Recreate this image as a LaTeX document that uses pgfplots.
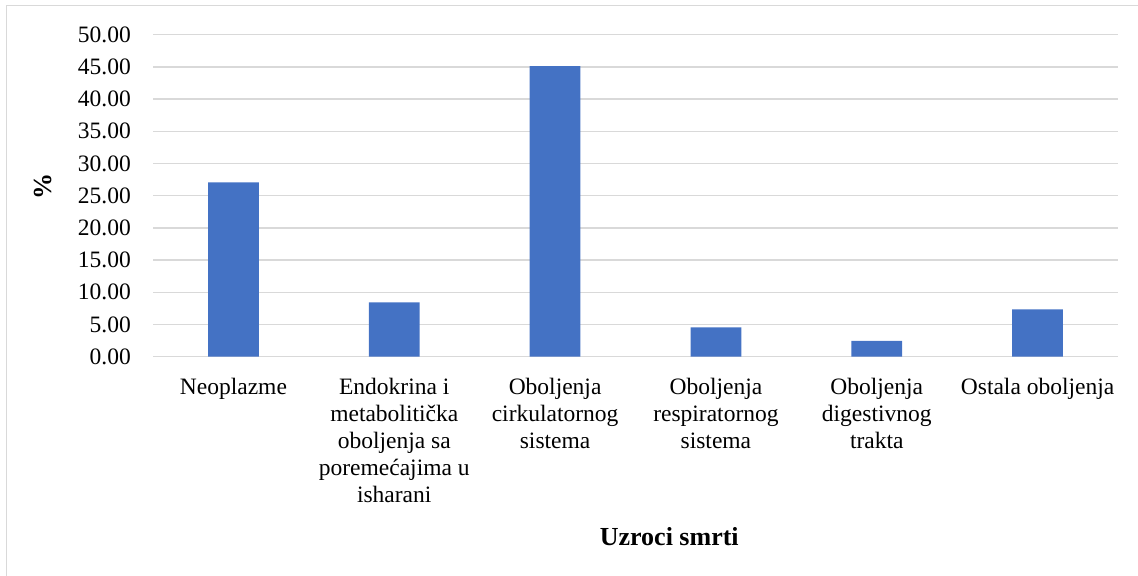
\documentclass[border=0pt]{standalone}
\usepackage{pgfplots}
\pgfplotsset{compat=1.18}
\usepackage{fontspec}
\setmainfont{Liberation Serif}
\definecolor{barblue}{HTML}{4472C4}
\definecolor{gridgray}{HTML}{D9D9D9}
\begin{document}
\fontsize{11.75pt}{13.5pt}\selectfont
\begin{tikzpicture}[font=\fontsize{11.75pt}{13.5pt}\selectfont]
\useasboundingbox (0,0) rectangle (569pt,287.5pt);
% chart area frame (only left and top edges visible)
\draw[gridgray, line width=0.75pt] (3.25pt,-5pt) -- (3.25pt,284.75pt) -- (580pt,284.75pt);
\begin{axis}[
    at={(76.5pt,109.15pt)}, anchor=south west,
    scale only axis, width=482.5pt, height=161pt,
    ybar, bar width=25.35pt,
    xmin=-0.5, xmax=5.5, ymin=0, ymax=50,
    ytick={0,5,...,50},
    xtick=data,
    xticklabels={Neoplazme, {Endokrina i\\metabolitička\\oboljenja sa\\poremećajima u\\isharani}, {Oboljenja\\cirkulatornog\\sistema}, {Oboljenja\\respiratornog\\sistema}, {Oboljenja\\digestivnog\\trakta}, Ostala oboljenja},
    xticklabel style={align=center, anchor=north, yshift=-6.5pt},
    /pgf/number format/fixed, /pgf/number format/fixed zerofill,
    /pgf/number format/precision=2, /pgf/number format/assume math mode=true,
    yticklabel style={anchor=east, xshift=-7pt},
    major tick length=0pt,
    axis line style={draw=none},
    ymajorgrids, grid style={gridgray, line width=0.75pt},
    ylabel={\fontsize{13pt}{15pt}\selectfont\textbf{\%}},
    every axis y label/.style={at={(axis description cs:-0.114,0.53)}, rotate=90, anchor=center},
    xlabel={\fontsize{13pt}{15pt}\selectfont\textbf{Uzroci smrti}},
    every axis x label/.style={at={(axis description cs:0.535,-0.56)}, anchor=center},
]
\addplot[fill=barblue, draw=none] coordinates {(0,27.08) (1,8.45) (2,45.14) (3,4.56) (4,2.44) (5,7.36)};
\end{axis}
\end{tikzpicture}
\end{document}
